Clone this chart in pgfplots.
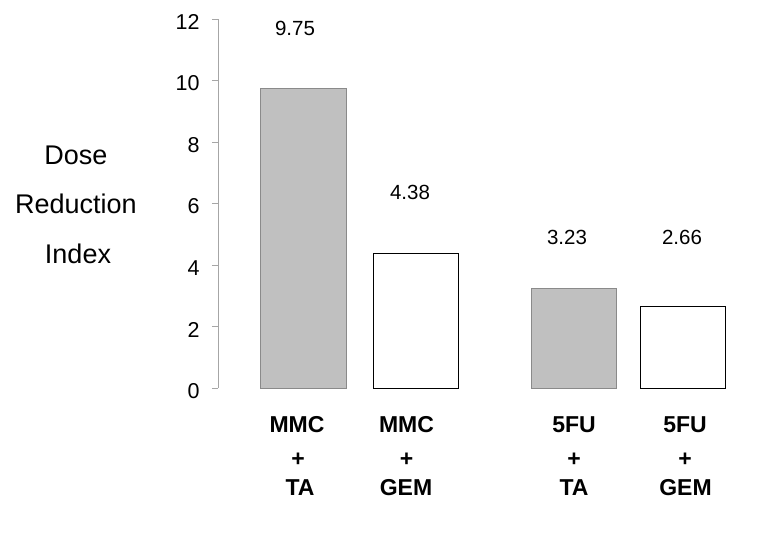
\documentclass[border=0pt]{standalone}
\usepackage{pgfplots}
\pgfplotsset{compat=1.18}
\usepackage{fontspec}
\setmainfont{Liberation Sans}
\definecolor{barfill}{HTML}{C0C0C0}
\definecolor{baredge}{HTML}{8A8A8A}
\tikzset{
  catlab/.style={font=\bfseries\fontsize{23}{23}\selectfont},
  vallab/.style={font=\fontsize{20.5}{20.5}\selectfont},
  ylab/.style={font=\fontsize{27}{27}\selectfont},
}
\begin{document}
\begin{tikzpicture}[x=1pt,y=1pt]
\useasboundingbox (-218pt,-167pt) rectangle (555pt,388pt);
\begin{axis}[
  at={(0,0)}, anchor=south west,
  scale only axis, width=522pt, height=369pt,
  xmin=218, xmax=740, ymin=0, ymax=12,
  axis x line=none,
  axis y line*=left,
  y axis line style={draw=gray!70, line width=0.6pt},
  ytick={0,2,...,12},
  tick align=outside,
  major tick length=6pt,
  every tick/.style={draw=gray!70, line width=0.6pt},
  yticklabel style={font=\fontsize{21.5}{21.5}\selectfont, xshift=-9pt, yshift=-3pt},
  /pgf/number format/assume math mode=true,
  clip=false,
  ybar, bar width=85, bar shift=0pt,
]
\addplot[fill=barfill, draw=baredge, line width=1pt] coordinates {(303.5,9.75) (574,3.23)};
\addplot[fill=white, draw=black, line width=1pt] coordinates {(416,4.38) (682.5,2.66)};
% value labels
\node[vallab] at (axis cs:295,11.7) {9.75};
\node[vallab] at (axis cs:410,6.37) {4.38};
\node[vallab] at (axis cs:567,4.91) {3.23};
\node[vallab] at (axis cs:682,4.88) {2.66};
% y label
\node[ylab] at (axis cs:76,7.58) {Dose};
\node[ylab] at (axis cs:76,5.98) {Reduction};
\node[ylab] at (axis cs:78,4.36) {Index};
% category labels
\node[catlab] at (axis cs:297,-1.18) {MMC};
\node[catlab] at (axis cs:298,-2.34) {+};
\node[catlab] at (axis cs:300,-3.25) {TA};
\node[catlab] at (axis cs:406.5,-1.18) {MMC};
\node[catlab] at (axis cs:406.5,-2.34) {+};
\node[catlab] at (axis cs:406,-3.25) {GEM};
\node[catlab] at (axis cs:574,-1.18) {5FU};
\node[catlab] at (axis cs:574,-2.34) {+};
\node[catlab] at (axis cs:574,-3.25) {TA};
\node[catlab] at (axis cs:685,-1.18) {5FU};
\node[catlab] at (axis cs:685,-2.34) {+};
\node[catlab] at (axis cs:685.5,-3.25) {GEM};
\end{axis}
\end{tikzpicture}
\end{document}
